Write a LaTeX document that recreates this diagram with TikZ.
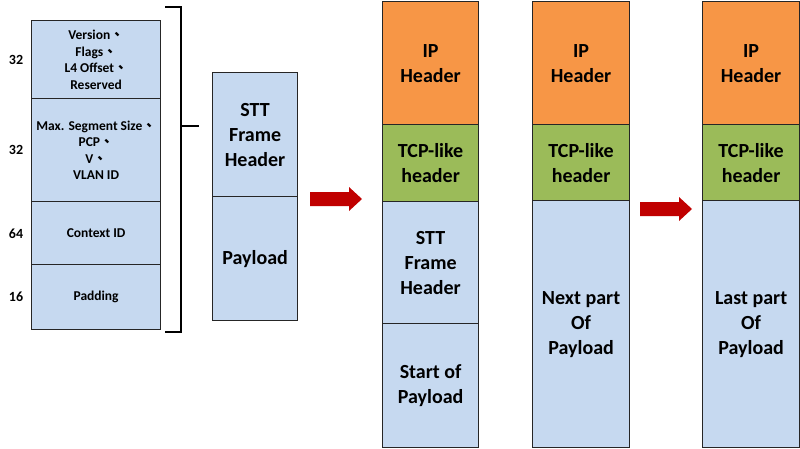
\documentclass[tikz,border=0pt]{standalone}
\usepackage{fontspec}
\setmainfont{Carlito}
\newfontfamily\cjk{Noto Sans CJK TC}
\definecolor{cellblue}{RGB}{198,217,240}
\definecolor{iporange}{RGB}{247,150,70}
\definecolor{tcpgreen}{RGB}{155,187,89}
\definecolor{arrowred}{RGB}{192,0,0}
\newcommand{\dun}{{\cjk 、}}

\begin{document}
\begin{tikzpicture}[x=1pt, y=-1pt,
  cell/.style = {draw=black!85, line width=1.2pt, fill=cellblue, anchor=north west,
                 inner sep=0, align=center, font=\bfseries\fontsize{20}{25}\selectfont},
  small/.style = {font=\bfseries\fontsize{13.5}{16.5}\selectfont},
  bits/.style = {font=\bfseries\fontsize{14}{16}\selectfont},
  redarrow/.style = {fill=arrowred}]
\useasboundingbox (0,0) rectangle (800,448);

% STT frame header fields
\node[cell, small, minimum width=129pt, minimum height=78pt] (ver) at (31,20)
  {Version\dun\\Flags\dun\\L4 Offset\dun\\Reserved};
\node[cell, small, minimum width=129pt, minimum height=103pt] (mss) at (31,98)
  {Max. Segment Size\dun\\PCP\dun\\V\dun\\VLAN ID};
\node[cell, small, minimum width=129pt, minimum height=63pt] (ctx) at (31,201) {Context ID};
\node[cell, small, minimum width=129pt, minimum height=65pt] (pad) at (31,264) {Padding};
\node[bits] (b1) at (16,60) {32};
\node[bits] (b2) at (16,150) {32};
\node[bits] (b3) at (16,234) {64};
\node[bits] (b4) at (16,297) {16};

% bracket
\coordinate (brTop) at (165,7);
\coordinate (brBot) at (165,332);
\coordinate (brMid) at (181,126);
\coordinate (brTip) at (199,126);
\draw[line width=1.5pt] (brTop) -- (181,7) -- (181,332) -- (brBot);
\draw[line width=1.5pt] (brMid) -- (brTip);

% STT frame
\node[cell, minimum width=85pt, minimum height=124pt] (sttH) at (212,72) {STT\\Frame\\Header};
\node[cell, minimum width=85pt, minimum height=124pt] (sttP) at (212,196) {Payload};

\coordinate (arrA) at (310,199);
\fill[redarrow] (arrA) ++(0,-7) -- ++(39,0) -- ++(0,-5) -- ++(13,12) -- ++(-13,12)
  -- ++(0,-5) -- ++(-39,0) -- cycle;

% first segment
\node[cell, fill=iporange, minimum width=96pt, minimum height=123pt] (ipA) at (382,1) {IP\\Header};
\node[cell, fill=tcpgreen, minimum width=96pt, minimum height=77pt] (tcpA) at (382,124) {TCP-like\\header};
\node[cell, minimum width=96pt, minimum height=122pt] (hdrA) at (382,201) {STT\\Frame\\Header};
\node[cell, minimum width=96pt, minimum height=124pt] (payA) at (382,323) {Start of\\Payload};

% next segment
\node[cell, fill=iporange, minimum width=97pt, minimum height=123pt] (ipB) at (532,1) {IP\\Header};
\node[cell, fill=tcpgreen, minimum width=97pt, minimum height=76pt] (tcpB) at (532,124) {TCP-like\\header};
\node[cell, minimum width=97pt, minimum height=247pt] (payB) at (532,200) {Next part\\Of\\Payload};

\coordinate (arrB) at (640,209);
\fill[redarrow] (arrB) ++(0,-7) -- ++(39,0) -- ++(0,-5) -- ++(13,12) -- ++(-13,12)
  -- ++(0,-5) -- ++(-39,0) -- cycle;

% last segment
\node[cell, fill=iporange, minimum width=97pt, minimum height=123pt] (ipC) at (702,1) {IP\\Header};
\node[cell, fill=tcpgreen, minimum width=97pt, minimum height=76pt] (tcpC) at (702,124) {TCP-like\\header};
\node[cell, minimum width=97pt, minimum height=247pt] (payC) at (702,200) {Last part\\Of\\Payload};
\end{tikzpicture}
\end{document}
